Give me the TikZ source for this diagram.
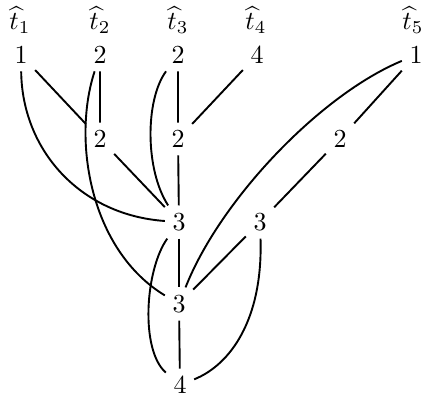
\documentclass[tikz,border=0pt]{standalone}
\begin{document}
\begin{tikzpicture}[x=1pt,y=-1pt,
  lab/.style={inner sep=2pt,scale=2.6,transform shape},
  hd/.style={inner sep=0.5pt,scale=2.6,transform shape},
  every path/.style={line width=1.9pt}]
\useasboundingbox (0,0) rectangle (426,401);
\node[hd] (t1) at (20,20) {$\widehat{t}_1$};
\node[hd] (t2) at (100,20) {$\widehat{t}_2$};
\node[hd] (t3) at (178,20) {$\widehat{t}_3$};
\node[hd] (t4) at (256,20) {$\widehat{t}_4$};
\node[hd] (t5) at (413,20) {$\widehat{t}_5$};
\node[lab] (a1) at (21,55) {1};
\node[lab] (a2) at (100,55) {2};
\node[lab] (a3) at (178,55) {2};
\node[lab] (a4) at (257,55) {4};
\node[lab] (a5) at (416,55) {1};
\node[lab] (b2) at (100,139) {2};
\node[lab] (b3) at (178,139) {2};
\node[lab] (c5) at (340,139) {2};
\node[lab] (d) at (179,222) {3};
\node[lab] (e) at (260,222) {3};
\node[lab] (f) at (179,304) {3};
\node[lab] (g) at (180,385) {4};
\draw (a1) -- (b2);
\draw (a1) .. controls (22,150) and (80,215) .. (d);
\draw (a2) -- (b2);
\draw (a2) .. controls (72,140) and (90,250) .. (f);
\draw (b2) -- (d);
\draw (a3) -- (b3);
\draw (a3) .. controls (145,100) and (145,170) .. (d);
\draw (b3) -- (d);
\draw (a4) -- (b3);
\draw (a5) -- (c5);
\draw (a5) .. controls (320,95) and (220,200) .. (f);
\draw (c5) -- (e);
\draw (e) -- (f);
\draw (d) -- (f);
\draw (d) .. controls (145,270) and (140,350) .. (g);
\draw (f) -- (g);
\draw (e) .. controls (263,320) and (230,365) .. (g);
\end{tikzpicture}
\end{document}
